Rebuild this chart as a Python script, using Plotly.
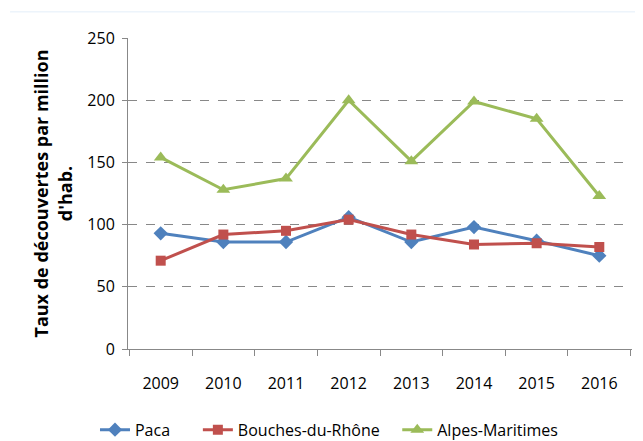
import plotly.graph_objects as go

# Data
years = ["2009", "2010", "2011", "2012", "2013", "2014", "2015", "2016"]
paca = [93, 86, 86, 106, 86, 98, 87, 75]
bouches_du_rhone = [71, 92, 95, 104, 92, 84, 85, 82]
alpes_maritimes = [154, 128, 137, 200, 151, 199, 185, 123]

series = [
    ("Paca", paca, "#4F81BD", "diamond", 11, "legend"),
    ("Bouches-du-Rhône", bouches_du_rhone, "#C0504D", "square", 10, "legend2"),
    ("Alpes-Maritimes", alpes_maritimes, "#9BBB59", "triangle-up", 12, "legend3"),
]

FONT = "'Open Sans', Lato, sans-serif"

fig = go.Figure()

for name, values, color, symbol, size, leg in series:
    fig.add_trace(go.Scatter(
        x=years,
        y=values,
        mode="lines+markers",
        name=name,
        legend=leg,
        line=dict(color=color, width=3),
        marker=dict(symbol=symbol, size=size, color=color),
    ))


def legend_at(x):
    # one legend box per series so the spacing follows the original
    return dict(
        orientation="h",
        xref="container", yref="container",
        x=x, xanchor="left",
        y=0.026, yanchor="middle",
        font=dict(size=16),
        bgcolor="rgba(0,0,0,0)",
    )


# the page body adds an 8px offset, so the figure is 8px smaller than the window
fig.update_layout(
    width=635,
    height=433,
    margin=dict(l=120, r=11, t=30, b=92, autoexpand=False),
    paper_bgcolor="white",
    plot_bgcolor="white",
    font=dict(family=FONT, size=16, color="#000000"),
    showlegend=True,
    legend=legend_at(0.137),
    legend2=legend_at(0.299),
    legend3=legend_at(0.613),
    xaxis=dict(
        type="category",
        automargin=False,
        showgrid=False,
        showline=True,
        linecolor="#888888",
        linewidth=1,
        ticks="outside",
        ticklen=6,
        tickcolor="#888888",
        tickson="boundaries",
        ticklabelstandoff=20,
    ),
    yaxis=dict(
        range=[0, 250],
        dtick=50,
        automargin=False,
        showgrid=True,
        gridcolor="#888888",
        griddash="dash",
        gridwidth=1,
        zeroline=False,
        showline=True,
        linecolor="#888888",
        linewidth=1,
        ticks="outside",
        ticklen=5,
        tickcolor="#888888",
        ticklabelstandoff=4,
        title=dict(
            text="<b>Taux de découvertes par million<br>d'hab.</b>",
            font=dict(size=18),
            standoff=10,
        ),
    ),
)

# faint chart border line at the top
fig.add_shape(
    type="line", xref="paper", yref="paper",
    x0=-0.234, x1=1.03, y0=1.084, y1=1.084,
    line=dict(color="#E3EEF9", width=1),
)

fig.write_html("out.html")
